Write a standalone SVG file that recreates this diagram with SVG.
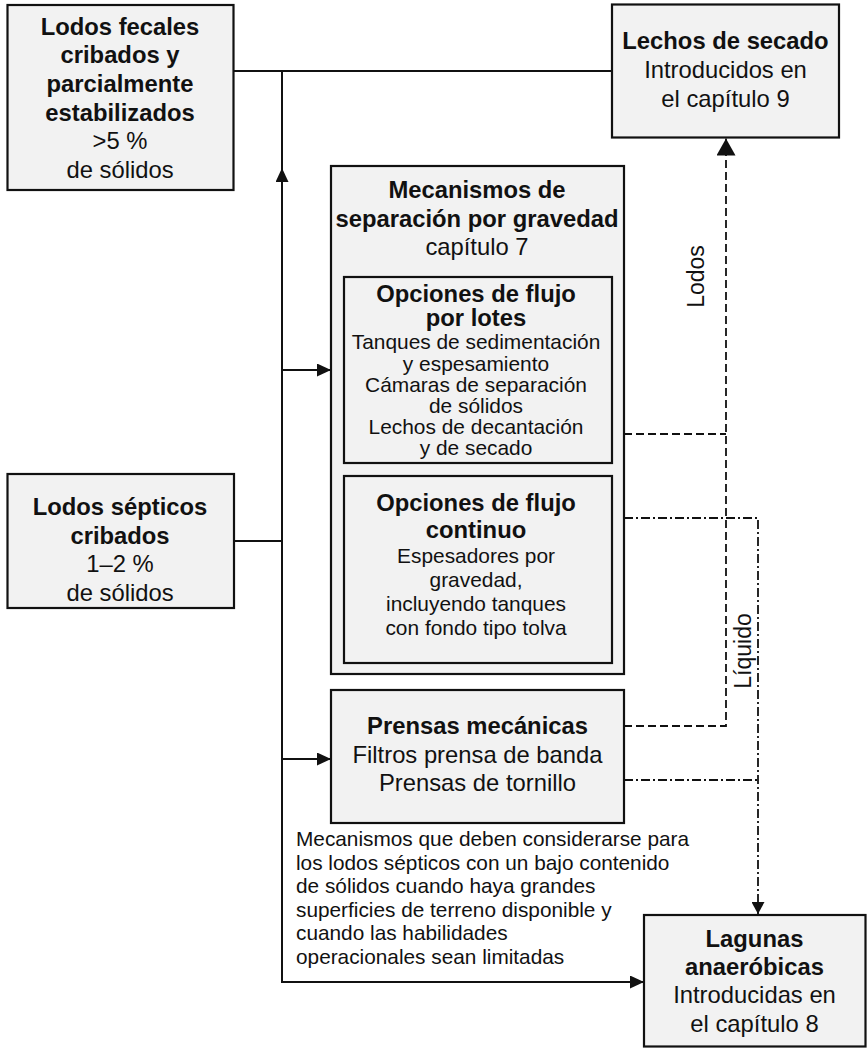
<svg xmlns="http://www.w3.org/2000/svg" width="867" height="1048" viewBox="0 0 867 1048">
<style>
text{font-family:"Liberation Sans",Arial,Helvetica,sans-serif;fill:#111;text-anchor:middle}
.b{font-weight:bold;font-size:23.8px}
.r{font-size:23.8px}
.s{font-size:20.9px}
.n{font-size:20.8px;text-anchor:start}
.l{font-size:23px}
.box{fill:#f2f2f2;stroke:#111;stroke-width:2.2}
.c{fill:none;stroke:#111;stroke-width:2}
.d{fill:none;stroke:#111;stroke-width:1.8;stroke-dasharray:8 4}
.dd{fill:none;stroke:#111;stroke-width:1.8;stroke-dasharray:9 3 2 3}
</style>
<defs>
<marker id="a" markerUnits="userSpaceOnUse" markerWidth="14" markerHeight="13" refX="14" refY="6.5" orient="auto"><path d="M0,0 L14,6.5 L0,13 z" fill="#111"/></marker>
<marker id="ab" markerUnits="userSpaceOnUse" markerWidth="17" markerHeight="19" refX="17" refY="9.5" orient="auto"><path d="M0,0 L17,9.5 L0,19 z" fill="#111"/></marker>
<marker id="as" markerUnits="userSpaceOnUse" markerWidth="12" markerHeight="13" refX="12" refY="6.5" orient="auto"><path d="M0,0 L12,6.5 L0,13 z" fill="#111"/></marker>
</defs>
<g id="connectors">
<path class="c" d="M234,71 H612"/>
<path class="c" d="M282,71 V982 H644" marker-end="url(#a)"/>
<path class="c" d="M282,200 V168" marker-end="url(#a)"/>
<path class="c" d="M234,541 H282"/>
<path class="c" d="M282,370 H331" marker-end="url(#a)"/>
<path class="c" d="M282,759 H331" marker-end="url(#a)"/>
<path class="d" d="M624,434 H726"/>
<path class="d" d="M624,726 H726 V138.5" marker-end="url(#ab)"/>
<path class="dd" d="M624,518 H758 V914" marker-end="url(#as)"/>
<path class="dd" d="M624,780 H758"/>
<text class="l" transform="translate(704,276.5) rotate(-90)">Lodos</text>
<text class="l" transform="translate(751,651) rotate(-90)">Líquido</text>
</g>
<g id="n-fecales">
<rect class="box" x="7.5" y="5" width="226" height="185"/>
<text class="b" x="120" y="34.5">Lodos fecales</text>
<text class="b" x="120" y="63">cribados y</text>
<text class="b" x="120" y="91.5">parcialmente</text>
<text class="b" x="120" y="120.5">estabilizados</text>
<text class="r" x="120" y="149">&gt;5 %</text>
<text class="r" x="120" y="177.5">de sólidos</text>
</g>
<g id="n-lechos">
<rect class="box" x="612" y="4.5" width="227" height="133"/>
<text class="b" x="725.5" y="48.5">Lechos de secado</text>
<text class="r" x="725.5" y="77.5">Introducidos en</text>
<text class="r" x="725.5" y="106.5">el capítulo 9</text>
</g>
<g id="n-septicos">
<rect class="box" x="7.5" y="474" width="226.5" height="134"/>
<text class="b" x="120" y="515">Lodos sépticos</text>
<text class="b" x="120" y="543.5">cribados</text>
<text class="r" x="120" y="572">1–2 %</text>
<text class="r" x="120" y="600.5">de sólidos</text>
</g>
<g id="n-mecanismos">
<rect class="box" x="331" y="166" width="293" height="508"/>
<text class="b" x="477" y="198">Mecanismos de</text>
<text class="b" x="477" y="226.5">separación por gravedad</text>
<text class="r" x="477" y="254.5">capítulo 7</text>
</g>
<g id="n-lotes">
<rect class="box" x="344" y="277" width="268" height="186"/>
<text class="b" x="476" y="301.7">Opciones de flujo</text>
<text class="b" x="476" y="326">por lotes</text>
<text class="s" x="476" y="349.3">Tanques de sedimentación</text>
<text class="s" x="476" y="370.5">y espesamiento</text>
<text class="s" x="476" y="391.7">Cámaras de separación</text>
<text class="s" x="476" y="413">de sólidos</text>
<text class="s" x="476" y="434.2">Lechos de decantación</text>
<text class="s" x="476" y="455.4">y de secado</text>
</g>
<g id="n-continuo">
<rect class="box" x="344" y="476" width="268" height="187"/>
<text class="b" x="476" y="510.7">Opciones de flujo</text>
<text class="b" x="476" y="538.3">continuo</text>
<text class="s" x="476" y="563.3">Espesadores por</text>
<text class="s" x="476" y="587">gravedad,</text>
<text class="s" x="476" y="611">incluyendo tanques</text>
<text class="s" x="476" y="634.5">con fondo tipo tolva</text>
</g>
<g id="n-prensas">
<rect class="box" x="331" y="690" width="293" height="133"/>
<text class="b" x="477.5" y="734">Prensas mecánicas</text>
<text class="r" x="477.5" y="762.5">Filtros prensa de banda</text>
<text class="r" x="477.5" y="791">Prensas de tornillo</text>
</g>
<g id="n-nota">
<text class="n" x="296" y="846">Mecanismos que deben considerarse para</text>
<text class="n" x="296" y="869.5">los lodos sépticos con un bajo contenido</text>
<text class="n" x="296" y="893">de sólidos cuando haya grandes</text>
<text class="n" x="296" y="916.5">superficies de terreno disponible y</text>
<text class="n" x="296" y="940">cuando las habilidades</text>
<text class="n" x="296" y="963.5">operacionales sean limitadas</text>
</g>
<g id="n-lagunas">
<rect class="box" x="644" y="915" width="221.5" height="131.5"/>
<text class="b" x="754.5" y="947">Lagunas</text>
<text class="b" x="754.5" y="975">anaeróbicas</text>
<text class="r" x="754.5" y="1003">Introducidas en</text>
<text class="r" x="754.5" y="1032">el capítulo 8</text>
</g>
</svg>
